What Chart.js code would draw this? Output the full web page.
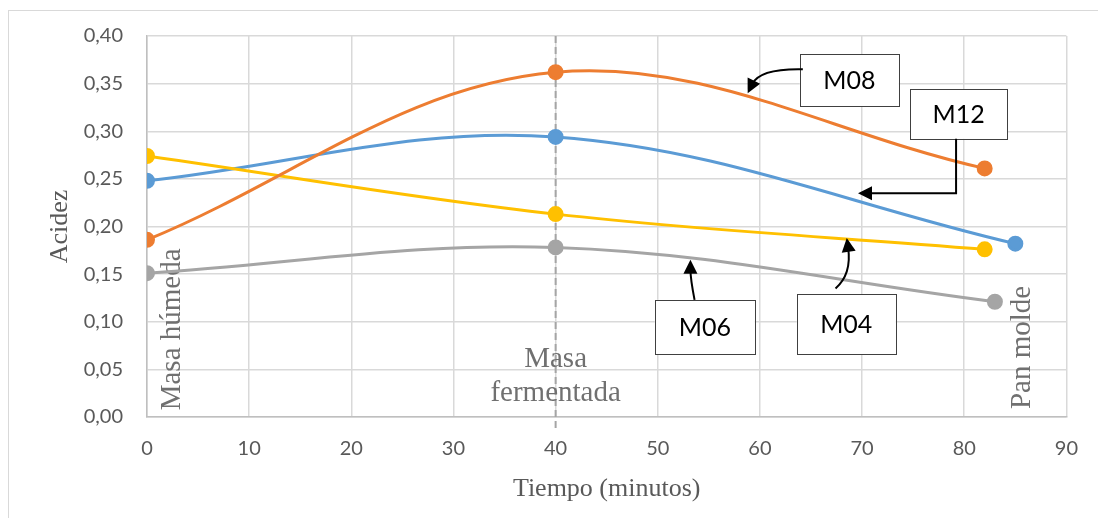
<!DOCTYPE html>
<html>
<head>
<meta charset="utf-8">
<script src="https://cdn.jsdelivr.net/npm/chart.js@4.4.0/dist/chart.umd.min.js"></script>
<style>
  html, body { margin: 0; padding: 0; background: #fff; }
  #wrap { position: relative; width: 1098px; height: 518px; overflow: hidden; }
  #frame { position: absolute; left: 8px; top: 10px; width: 1200px; height: 600px; border: 1px solid #d9d9d9; box-sizing: border-box; }
  #chart { position: absolute; left: 0; top: 0; }
</style>
</head>
<body>
<div id="wrap">
  <div id="frame"></div>
  <canvas id="chart" width="1098" height="518"></canvas>
</div>
<script>
// Tiempo (minutos) y acidez de cada muestra
const timesM08 = [0, 40, 82];
const acidM08 = [0.186, 0.362, 0.261];
const timesM12 = [0, 40, 85];
const acidM12 = [0.248, 0.294, 0.182];
const timesM04 = [0, 40, 82];
const acidM04 = [0.274, 0.213, 0.176];
const timesM06 = [0, 40, 83];
const acidM06 = [0.151, 0.178, 0.121];

const xTicks = [0, 10, 20, 30, 40, 50, 60, 70, 80, 90];
const yTicks = [0, 0.05, 0.10, 0.15, 0.20, 0.25, 0.30, 0.35, 0.40];

const stageTime = 40;

const SERIF = "'Liberation Serif', 'Times New Roman', serif";
const SANS = "Lato, 'Open Sans', sans-serif";

function pts(xs, ys) {
  return xs.map((x, i) => ({ x: x, y: ys[i] }));
}

function series(label, xs, ys, color) {
  return {
    label: label,
    data: pts(xs, ys),
    borderColor: color,
    backgroundColor: color,
    pointBackgroundColor: color,
    pointBorderColor: color,
    borderWidth: 3,
    pointRadius: 6.5,
    tension: 0.36,
    fill: false
  };
}

// callouts (in data units)
const callouts = [
  { text: 'M08', box: [63.9, 0.381, 73.6, 0.326],
    path: { type: 'curve', from: [64.2, 0.365], ctrl: [60.0, 0.366], to: [58.8, 0.340] } },
  { text: 'M12', box: [74.7, 0.344, 84.2, 0.292],
    path: { type: 'elbow', pts: [[79.2, 0.292], [79.2, 0.235], [69.6, 0.235]] } },
  { text: 'M06', box: [49.7, 0.123, 59.5, 0.066],
    path: { type: 'curve', from: [53.6, 0.123], ctrl: [53.2, 0.145], to: [53.2, 0.165] } },
  { text: 'M04', box: [63.6, 0.129, 73.3, 0.066],
    path: { type: 'curve', from: [67.4, 0.135], ctrl: [69.0, 0.150], to: [68.5, 0.188] } }
];

const stageLabels = [
  { lines: ['Masa húmeda'], x: 2.5, y: 0.092, rotate: true },
  { lines: ['Masa', 'fermentada'], x: 40, y: 0.043, rotate: false },
  { lines: ['Pan molde'], x: 85.7, y: 0.073, rotate: true }
];

function arrowHead(ctx, x, y, angle) {
  const len = 14, half = 7;
  ctx.save();
  ctx.translate(x, y);
  ctx.rotate(angle);
  ctx.beginPath();
  ctx.moveTo(0, 0);
  ctx.lineTo(-len, -half);
  ctx.lineTo(-len, half);
  ctx.closePath();
  ctx.fill();
  ctx.restore();
}

const stageLine = {
  id: 'stageLine',
  beforeDatasetsDraw(chart) {
    const { ctx, chartArea, scales } = chart;
    const x = scales.x.getPixelForValue(stageTime);
    ctx.save();
    ctx.strokeStyle = '#a5a5a5';
    ctx.lineWidth = 2;
    ctx.setLineDash([7, 4]);
    ctx.beginPath();
    ctx.moveTo(x, chartArea.top);
    ctx.lineTo(x, chartArea.bottom + 11);
    ctx.stroke();
    ctx.restore();

    ctx.save();
    ctx.fillStyle = '#707070';
    ctx.font = '29px ' + SERIF;
    ctx.textAlign = 'center';
    ctx.textBaseline = 'middle';
    stageLabels.forEach(l => {
      const px = scales.x.getPixelForValue(l.x);
      const py = scales.y.getPixelForValue(l.y);
      if (l.rotate) {
        ctx.save();
        ctx.translate(px, py);
        ctx.rotate(-Math.PI / 2);
        ctx.fillText(l.lines[0], 0, 0);
        ctx.restore();
      } else {
        const lh = 34;
        l.lines.forEach((t, i) => {
          ctx.fillText(t, px, py + (i - (l.lines.length - 1) / 2) * lh);
        });
      }
    });
    ctx.restore();
  },
  afterDatasetsDraw(chart) {
    const { ctx, scales } = chart;
    const X = v => scales.x.getPixelForValue(v);
    const Y = v => scales.y.getPixelForValue(v);
    ctx.save();
    callouts.forEach(c => {
      const x0 = X(c.box[0]), y0 = Y(c.box[1]);
      const x1 = X(c.box[2]), y1 = Y(c.box[3]);
      ctx.fillStyle = '#fff';
      ctx.fillRect(x0, y0, x1 - x0, y1 - y0);
      ctx.strokeStyle = '#404040';
      ctx.lineWidth = 1;
      ctx.strokeRect(Math.round(x0) + 0.5, Math.round(y0) + 0.5, Math.round(x1 - x0), Math.round(y1 - y0));
      ctx.fillStyle = '#000';
      ctx.font = '25px ' + SANS;
      ctx.textAlign = 'center';
      ctx.textBaseline = 'middle';
      ctx.fillText(c.text, (x0 + x1) / 2, (y0 + y1) / 2 + 1);

      ctx.strokeStyle = '#000';
      ctx.lineWidth = 2;
      ctx.setLineDash([]);
      const p = c.path;
      ctx.beginPath();
      let angle, tx, ty;
      if (p.type === 'curve') {
        const fx = X(p.from[0]), fy = Y(p.from[1]);
        const cx = X(p.ctrl[0]), cy = Y(p.ctrl[1]);
        tx = X(p.to[0]); ty = Y(p.to[1]);
        angle = Math.atan2(ty - cy, tx - cx);
        const ex = tx - Math.cos(angle) * 10, ey = ty - Math.sin(angle) * 10;
        ctx.moveTo(fx, fy);
        ctx.quadraticCurveTo(cx, cy, ex, ey);
      } else {
        const q = p.pts.map(v => [X(v[0]), Y(v[1])]);
        const last = q[q.length - 1], prev = q[q.length - 2];
        tx = last[0]; ty = last[1];
        angle = Math.atan2(ty - prev[1], tx - prev[0]);
        ctx.moveTo(q[0][0], q[0][1]);
        for (let i = 1; i < q.length - 1; i++) ctx.lineTo(q[i][0], q[i][1]);
        ctx.lineTo(tx - Math.cos(angle) * 10, ty - Math.sin(angle) * 10);
      }
      ctx.stroke();
      ctx.fillStyle = '#000';
      arrowHead(ctx, tx, ty, angle);
    });
    ctx.restore();
  }
};

new Chart(document.getElementById('chart').getContext('2d'), {
  type: 'line',
  data: {
    datasets: [
      series('M08', timesM08, acidM08, '#ed7d31'),
      series('M04', timesM04, acidM04, '#ffc000'),
      series('M12', timesM12, acidM12, '#5b9bd5'),
      series('M06', timesM06, acidM06, '#a5a5a5')
    ]
  },
  options: {
    responsive: false,
    animation: false,
    layout: { padding: { top: 36, right: 24, bottom: 0, left: 0 } },
    plugins: {
      legend: { display: false },
      tooltip: { enabled: false }
    },
    scales: {
      x: {
        type: 'linear',
        min: 0,
        max: 90,
        afterBuildTicks(scale) { scale.ticks = xTicks.map(v => ({ value: v })); },
        afterFit(scale) { scale.height = 101; },
        grid: { color: '#d9d9d9', lineWidth: 1.5, drawTicks: false },
        border: { color: '#bfbfbf', width: 1.5 },
        ticks: { color: '#595959', font: { family: SANS, size: 20 }, padding: 20, maxRotation: 0 },
        title: { display: true, text: 'Tiempo (minutos)', color: '#595959', font: { family: SERIF, size: 26 }, padding: { top: 0, bottom: 13 } }
      },
      y: {
        min: 0,
        max: 0.4,
        afterBuildTicks(scale) { scale.ticks = yTicks.map(v => ({ value: v })); },
        afterFit(scale) { scale.width = 147; },
        grid: { color: '#d9d9d9', lineWidth: 1.5, drawTicks: false },
        border: { color: '#bfbfbf', width: 1.5 },
        ticks: {
          color: '#595959',
          font: { family: SANS, size: 20 },
          padding: 24,
          callback: v => v.toFixed(2).replace('.', ',')
        },
        title: { display: true, text: 'Acidez', color: '#595959', font: { family: SERIF, size: 26 }, padding: { top: 45, bottom: 0 } }
      }
    }
  },
  plugins: [stageLine]
});
</script>
</body>
</html>
